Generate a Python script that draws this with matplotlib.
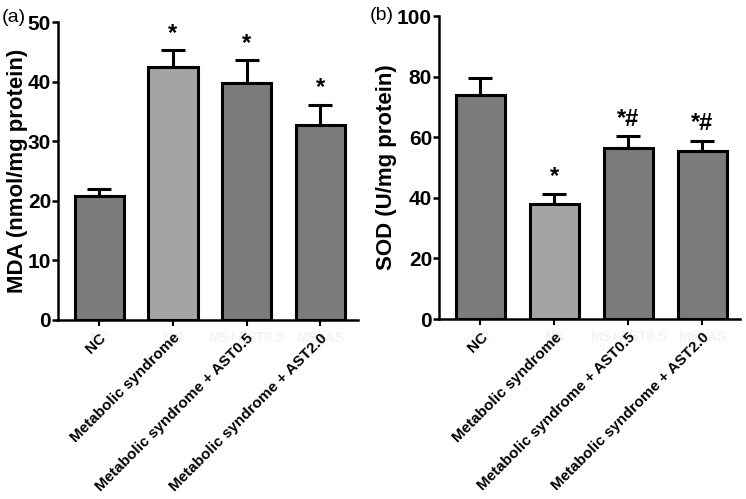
import matplotlib
matplotlib.use("Agg")
import matplotlib.pyplot as plt
import numpy as np

plt.rcParams['font.family'] = ['Liberation Sans', 'DejaVu Sans']

groups = ["NC", "Metabolic syndrome", "Metabolic syndrome + AST0.5", "Metabolic syndrome + AST2.0"]
ghost_labels = ["NC", "MS", "MS+AST0.5", "MS+AS"]

mda = [20.8, 42.5, 39.8, 32.7]
mda_err = [1.2, 2.8, 3.8, 3.4]
mda_marks = ["", "*", "*", "*"]

sod = [73.9, 38.1, 56.5, 55.6]
sod_err = [5.6, 3.3, 3.8, 3.2]
sod_marks = ["", "*", "*#", "*#"]

dark = "#7b7b7b"
light = "#a4a4a4"
colors = [dark, light, dark, dark]

fig = plt.figure(figsize=(7.46, 4.99), dpi=100)
ax1 = fig.add_axes([0.0777, 0.3593, 0.402, 0.596])
ax2 = fig.add_axes([0.5885, 0.3607, 0.4035, 0.607])


def panel(ax, vals, errs, marks, ymax, step, ylabel, label_x):
    x = np.arange(len(vals))
    ax.bar(x, vals, width=0.67, color=colors, edgecolor="black", linewidth=2.2, zorder=3)
    ax.errorbar(x, vals, yerr=[np.zeros(len(errs)), errs], fmt="none", ecolor="black",
                elinewidth=2.2, capsize=8.5, capthick=2.2, zorder=2)
    for xi, v, e, m in zip(x, vals, errs, marks):
        if m:
            ax.annotate(m, (xi, v + e), xytext=(0, 4), textcoords="offset points",
                        ha="center", va="bottom", fontsize=17, fontweight="bold")
    ax.set_xlim(-0.56, 3.51)
    ax.set_ylim(0, ymax)
    ax.set_yticks(np.arange(0, ymax + 1, step))
    ax.set_xticks(x)
    ax.set_xticklabels(groups, rotation=45, ha="right", rotation_mode="anchor",
                       fontsize=11, fontweight="bold")
    for xi, g in zip(x, ghost_labels):
        ax.text(xi, -0.06, g, transform=ax.get_xaxis_transform(), ha="center", va="center",
                fontsize=10, fontweight="bold", color="#f3f3f3", zorder=0)
    ax.tick_params(axis="y", labelsize=15, width=1.8, length=4, direction="out", pad=1)
    ax.tick_params(axis="x", width=1.5, length=4, direction="out", pad=4)
    for lbl in ax.get_yticklabels():
        lbl.set_fontweight("bold")
    for s in ["top", "right"]:
        ax.spines[s].set_visible(False)
    for s in ["left", "bottom"]:
        ax.spines[s].set_linewidth(1.8)
    ax.set_ylabel(ylabel, fontsize=16, fontweight="bold")
    ax.yaxis.set_label_coords(label_x, 0.5)


panel(ax1, mda, mda_err, mda_marks, 50, 10, "MDA (nmol/mg protein)", -0.10)
panel(ax2, sod, sod_err, sod_marks, 100, 20, "SOD (U/mg protein)", -0.14)

fig.text(0.002, 1 - 18 / 499, "(a)", fontsize=14, ha="left", va="center")
fig.text(370 / 746, 1 - 16 / 499, "(b)", fontsize=14, ha="left", va="center")

fig.savefig("out.png", dpi=100)
